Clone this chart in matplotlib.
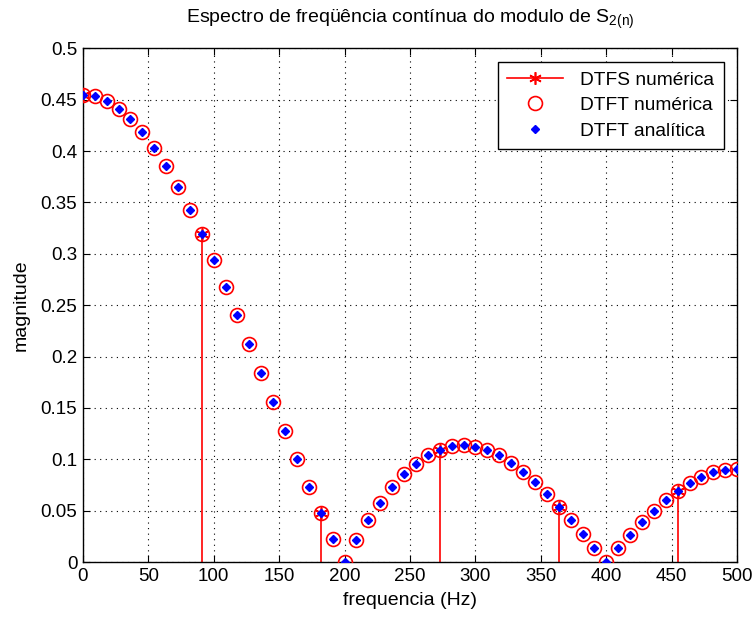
import numpy as np
import matplotlib
matplotlib.use("Agg")
import matplotlib.pyplot as plt

plt.rcParams['font.family'] = ['Liberation Sans', 'DejaVu Sans']
plt.rcParams['mathtext.default'] = 'regular'

# Continuous-spectrum samples (DTFT), 56 points from 0 to 500 Hz
dtft_freq = np.linspace(0, 500, 56)
dtft_mag_num = [
    0.4545, 0.4531, 0.4486, 0.4413, 0.4312, 0.4183, 0.4029, 0.3851, 0.3651, 0.3431,
    0.3194, 0.2942, 0.2678, 0.2404, 0.2124, 0.1841, 0.1557, 0.1276, 0.0999, 0.0731,
    0.0474, 0.0229, 0.0000, 0.0212, 0.0405, 0.0577, 0.0727, 0.0854, 0.0958, 0.1038,
    0.1094, 0.1127, 0.1136, 0.1124, 0.1090, 0.1037, 0.0966, 0.0878, 0.0777, 0.0663,
    0.0540, 0.0410, 0.0275, 0.0137, 0.0000, 0.0135, 0.0265, 0.0388, 0.0501, 0.0604,
    0.0694, 0.0770, 0.0830, 0.0874, 0.0900, 0.0909,
]
dtft_mag_ana = list(dtft_mag_num)

# Discrete Fourier series coefficients
dtfs_freq = [0.0, 90.91, 181.82, 272.73, 363.64, 454.55]
dtfs_mag = [0.4545, 0.3194, 0.0474, 0.1094, 0.0540, 0.0694]

fig = plt.figure(figsize=(7.53, 6.19), dpi=100)
ax = fig.add_axes([0.110, 0.092, 0.869, 0.830])

asterisk = (6, 2, 0)

# stems
ax.vlines(dtfs_freq, 0, dtfs_mag, color='red', lw=1.2, zorder=2)
ax.plot(dtfs_freq, dtfs_mag, linestyle='none', marker=asterisk, color='red',
        markersize=9, mew=1.2, zorder=3)
h1, = ax.plot([], [], color='red', lw=1.2, marker=asterisk, markersize=9, mew=1.2)

h2, = ax.plot(dtft_freq, dtft_mag_num, linestyle='none', marker='o', markersize=10,
              mfc='none', mec='red', mew=1.2, zorder=4)
h3, = ax.plot(dtft_freq, dtft_mag_ana, linestyle='none', marker='D', markersize=4.5,
              color='blue', mec='blue', zorder=5)

ax.set_xlim(0, 500)
ax.set_ylim(0, 0.5)
ax.set_xticks(np.arange(0, 501, 50))
ax.set_yticks(np.arange(0, 0.501, 0.05))
ax.set_yticklabels(['0', '0.05', '0.1', '0.15', '0.2', '0.25', '0.3', '0.35',
                    '0.4', '0.45', '0.5'])
ax.grid(True, linestyle=(0, (1, 4)), color='black', lw=0.8)
ax.tick_params(direction='in', top=True, right=True, labelsize=13.5, length=5, pad=4)
for s in ax.spines.values():
    s.set_linewidth(1.0)

ax.set_title(r'Espectro de freqüência contínua do modulo de $S_{2(n)}$',
             fontsize=14, pad=18)
ax.set_xlabel('frequencia (Hz)', fontsize=14, labelpad=5)
ax.set_ylabel('magnitude', fontsize=14, labelpad=8)

leg = ax.legend([h1, h2, h3], ['DTFS numérica', 'DTFT numérica', 'DTFT analítica'],
                loc='upper right', fancybox=False, framealpha=1, edgecolor='black',
                fontsize=13.8, numpoints=1, handlelength=2.9, handletextpad=0.9,
                labelspacing=0.42, borderpad=0.5, borderaxespad=0.7)
leg.get_frame().set_linewidth(1.0)

fig.savefig('out.png', dpi=100)
